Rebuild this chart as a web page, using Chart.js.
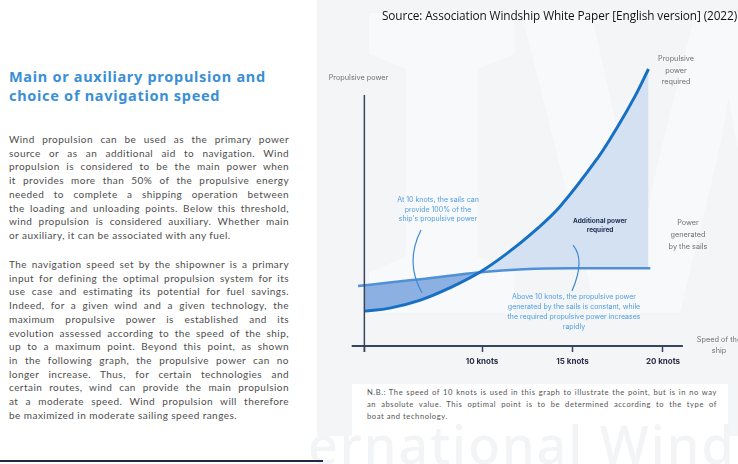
<!DOCTYPE html>
<html>
<head>
<meta charset="utf-8">
<script src="https://cdn.jsdelivr.net/npm/chart.js@4.4.0/dist/chart.umd.min.js"></script>
<style>
  html, body { margin: 0; padding: 0; }
  body { width: 738px; height: 464px; overflow: hidden; position: relative; background: #fff; }
  #panel { position: absolute; left: 317px; top: 0; width: 421px; height: 436px; background: #f4f5f7; overflow: hidden; }
  #mark { position: absolute; left: 38px; top: -60px; font: 800 420px/1 "Noto Sans", sans-serif; color: #fff; opacity: .4; letter-spacing: -10px; white-space: nowrap; }
  #nbBox { position: absolute; left: 352px; top: 384px; width: 376px; height: 52px; background: #fff; }
  #bottomMark { position: absolute; left: 308px; top: 418px; width: 430px; height: 46px; overflow: hidden; }
  #bottomMark span { position: absolute; left: 0; top: 0; font: 500 52px/1 "Noto Sans", sans-serif; color: #f3f4f6; white-space: nowrap; letter-spacing: 2px; }
  #chartBox { position: absolute; left: 300px; top: 0; width: 438px; height: 380px; }
  .source { position: absolute; left: 382px; top: 7px; font: 11.8px "Open Sans", sans-serif; color: #111; white-space: nowrap; letter-spacing: -0.1px; }
  .title { position: absolute; left: 9px; top: 67px; font: 700 14.5px/19px "Noto Sans", sans-serif; color: #3b8fd5; letter-spacing: .7px; }
  .para { position: absolute; left: 9px; width: 280px; font: 10px/13.7px Lato, sans-serif; color: #4d4d4d; letter-spacing: .45px; }
  .para div { text-align: justify; text-align-last: justify; }
  .para div.last { text-align-last: left; }
  .nb { position: absolute; left: 367px; top: 386px; width: 350px; font: 7.6px/12px Lato, sans-serif; color: #555; letter-spacing: .55px; }
  .nb div { text-align: justify; text-align-last: justify; }
  .nb div.last { text-align-last: left; }
  .rule { position: absolute; left: 0; top: 460px; width: 323px; height: 2px; background: #1e2a48; }
</style>
</head>
<body>
<div id="panel"><div id="mark">IWS</div></div>
<div id="nbBox"></div>
<div id="bottomMark"><span>ernational Wind</span></div>
<div id="chartBox"><canvas id="chart" width="438" height="380"></canvas></div>

<div class="source">Source: Association Windship White Paper [English version] (2022)</div>

<div class="title">Main or auxiliary propulsion and<br>choice of navigation speed</div>

<div class="para" style="top:133px">
  <div>Wind propulsion can be used as the primary power</div>
  <div>source or as an additional aid to navigation. Wind</div>
  <div>propulsion is considered to be the main power when</div>
  <div>it provides more than 50% of the propulsive energy</div>
  <div>needed to complete a shipping operation between</div>
  <div>the loading and unloading points. Below this threshold,</div>
  <div>wind propulsion is considered auxiliary. Whether main</div>
  <div class="last">or auxiliary, it can be associated with any fuel.</div>
</div>

<div class="para" style="top:258px">
  <div>The navigation speed set by the shipowner is a primary</div>
  <div>input for defining the optimal propulsion system for its</div>
  <div>use case and estimating its potential for fuel savings.</div>
  <div>Indeed, for a given wind and a given technology, the</div>
  <div>maximum propulsive power is established and its</div>
  <div>evolution assessed according to the speed of the ship,</div>
  <div>up to a maximum point. Beyond this point, as shown</div>
  <div>in the following graph, the propulsive power can no</div>
  <div>longer increase. Thus, for certain technologies and</div>
  <div>certain routes, wind can provide the main propulsion</div>
  <div>at a moderate speed. Wind propulsion will therefore</div>
  <div class="last">be maximized in moderate sailing speed ranges.</div>
</div>

<div class="nb">
  <div>N.B.: The speed of 10 knots is used in this graph to illustrate the point, but is in no way</div>
  <div>an absolute value. This optimal point is to be determined according to the type of</div>
  <div class="last">boat and technology.</div>
</div>

<div class="rule"></div>

<script>
// speed of the ship (knots) and propulsive power (arbitrary units)
const requiredSpeed = [3.5, 4.9, 6.6, 8.2, 9.9, 11.4, 12.8, 14.3, 16.4, 17.5, 18.45, 19.2];
const requiredPower = [13.9, 15.1, 18.3, 23.1, 29.5, 37, 45.2, 55.5, 75, 87.5, 99.5, 110.4];
const sailsSpeed = [3.15, 5.5, 6.6, 9.9, 12.3, 15.0, 19.3];
const sailsPower = [23.9, 25.8, 26.6, 29.4, 30.6, 31.0, 31.0];
const speedTicks = [3.5, 10, 15, 20];

const toPoints = (xs, ys) => xs.map((v, i) => ({ x: v, y: ys[i] }));

const GREY = '#6f7175';
const LIGHT_BLUE = '#4e9de0';
const NAVY = '#39445f';

function drawLines(ctx, lines, cx, y, step, font, color) {
    ctx.font = font;
    ctx.fillStyle = color;
    ctx.textAlign = 'center';
    ctx.textBaseline = 'middle';
    lines.forEach((t, i) => ctx.fillText(t, cx, y + i * step));
}

// axes lines, callouts and the text notes of the figure
const overlay = {
    id: 'overlay',
    afterDatasetsDraw(chart) {
        const { ctx } = chart;
        const x = chart.scales.x, y = chart.scales.y;
        const y0 = y.getPixelForValue(0);
        const yAxisX = x.getPixelForValue(speedTicks[0]);

        ctx.save();
        ctx.strokeStyle = NAVY;
        ctx.lineWidth = 2;
        ctx.beginPath();
        ctx.moveTo(x.left, y0);
        ctx.lineTo(x.right, y0);
        ctx.stroke();
        ctx.lineWidth = 1.5;
        ctx.beginPath();
        ctx.moveTo(yAxisX, y.getPixelForValue(100));
        ctx.lineTo(yAxisX, y0 + 6);
        ctx.stroke();

        // callout brackets
        const arcs = [
            [[6.63, 46.2], [5.72, 33.3], [6.69, 21.1]],
            [[15.03, 40.2], [15.72, 34.3], [14.97, 21.9]]
        ];
        ctx.strokeStyle = '#3f8ad2';
        ctx.lineWidth = 1.2;
        arcs.forEach(([a, c, b]) => {
            ctx.beginPath();
            ctx.moveTo(x.getPixelForValue(a[0]), y.getPixelForValue(a[1]));
            ctx.quadraticCurveTo(x.getPixelForValue(c[0]), y.getPixelForValue(c[1]),
                                 x.getPixelForValue(b[0]), y.getPixelForValue(b[1]));
            ctx.stroke();
        });

        const f = (w, s) => `${w} ${s}px Inter, sans-serif`;
        drawLines(ctx, ['Propulsive power'], 58.5, 78, 0, f(400, 7.3), GREY);
        drawLines(ctx, ['Propulsive', 'power', 'required'], 376, 59, 11.5, f(400, 7.3), GREY);
        drawLines(ctx, ['Power', 'generated', 'by the sails'], 388, 223, 12, f(400, 7.3), GREY);
        drawLines(ctx, ['At 10 knots, the sails can', 'provide 100% of the', "ship's propulsive power"],
                  138, 200, 9.5, f(400, 7), LIGHT_BLUE);
        drawLines(ctx, ['Additional power', 'required'], 300, 221, 9, f(700, 6.5), '#1e2c4f');
        drawLines(ctx, ['Above 10 knots, the propulsive power', 'generated by the sails is constant, while',
                        'the required propulsive power increases', 'rapidly'],
                  274, 297, 10, f(400, 7), LIGHT_BLUE);
        drawLines(ctx, ['Speed of the', 'ship'], 419, 340, 11, f(400, 7.3), GREY);
        ctx.restore();
    }
};

new Chart(document.getElementById('chart'), {
    type: 'line',
    data: {
        datasets: [{
            label: 'Propulsive power required',
            data: toPoints(requiredSpeed, requiredPower),
            borderColor: '#1670c4',
            borderWidth: 3,
            pointRadius: 0,
            tension: 0.4,
            fill: { target: 1, above: '#d3e1f3', below: '#8cb0e2' }
        }, {
            label: 'Power generated by the sails',
            data: toPoints(sailsSpeed, sailsPower),
            borderColor: '#5090d6',
            borderWidth: 2.5,
            pointRadius: 0,
            cubicInterpolationMode: 'monotone',
            fill: false
        }]
    },
    options: {
        responsive: false,
        animation: false,
        devicePixelRatio: 1,
        layout: { padding: { left: 51.7, right: 55.1, top: 65, bottom: 8 } },
        plugins: {
            legend: { display: false },
            tooltip: { enabled: false },
            filler: { drawTime: 'beforeDatasetsDraw' }
        },
        scales: {
            x: {
                type: 'linear',
                min: 2.8,
                max: 21.1,
                afterBuildTicks: scale => { scale.ticks = speedTicks.map(v => ({ value: v })); },
                afterFit: scale => { scale.height = 26; },
                border: { display: false },
                grid: {
                    display: true,
                    drawOnChartArea: false,
                    drawTicks: true,
                    tickLength: 6,
                    tickWidth: 1.5,
                    tickColor: NAVY
                },
                ticks: {
                    padding: 5,
                    maxRotation: 0,
                    autoSkip: false,
                    color: '#2b3048',
                    font: { family: 'Inter', size: 8, weight: 'bold' },
                    callback: v => (v === speedTicks[0] ? '' : v + ' knots')
                }
            },
            y: {
                display: false,
                min: 0,
                max: 112
            }
        }
    },
    plugins: [overlay]
});
</script>
</body>
</html>
